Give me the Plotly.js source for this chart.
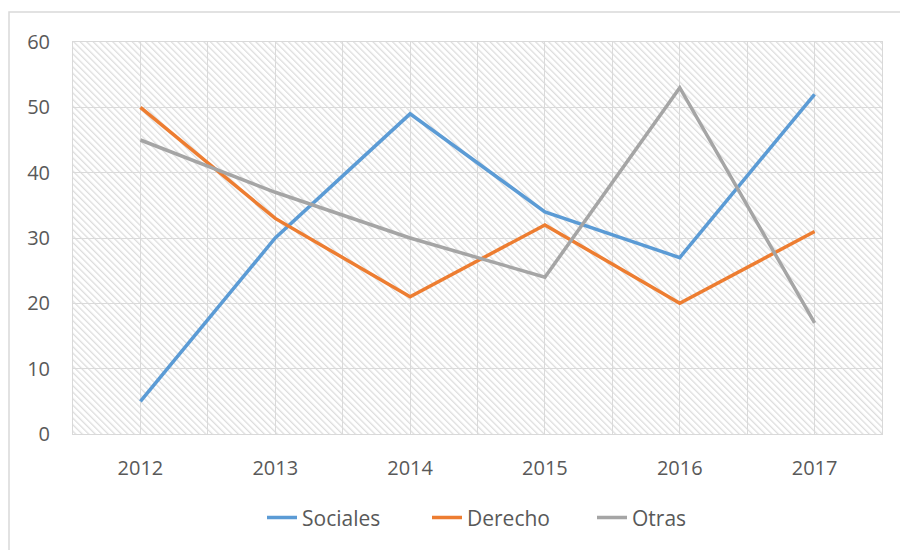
<!DOCTYPE html>
<html>
<head>
<meta charset="utf-8">
<script src="https://cdn.plot.ly/plotly-3.0.1.min.js"></script>
<style>
html,body{margin:0;padding:0;background:#fff;}
#chart{width:900px;height:550px;}
</style>
</head>
<body>
<div id="chart"></div>
<script>
const years = [2012, 2013, 2014, 2015, 2016, 2017];
const sociales = [5, 30, 49, 34, 27, 52];
const derecho = [50, 33, 21, 32, 20, 31];
const otras = [45, 37, 30, 24, 53, 17];
const yTicks = [0, 10, 20, 30, 40, 50, 60];
const seriesNames = ['Sociales', 'Derecho', 'Otras'];

const colors = ['#5B9BD5', '#ED7D31', '#A5A5A5'];
const W = 900, H = 550;
const L = 73, R = 18, T = 42, B = 116;
const pw = W - L - R, ph = H - T - B;

// hatched background pattern as an SVG image
const svg = `<svg xmlns="http://www.w3.org/2000/svg" width="${pw}" height="${ph}">
<defs><pattern id="p" patternUnits="userSpaceOnUse" width="4.6" height="5" patternTransform="rotate(-45)">
<rect x="0" y="0" width="1.3" height="5" fill="#DDDDDD"/></pattern></defs>
<rect width="${pw}" height="${ph}" fill="#ffffff"/>
<rect width="${pw}" height="${ph}" fill="url(#p)"/></svg>`;
const src = 'data:image/svg+xml;base64,' + btoa(svg);

const series = [sociales, derecho, otras];
const traces = series.map((vals, i) => ({
  type: 'scatter', mode: 'lines', x: years, y: vals, name: seriesNames[i],
  line: {color: colors[i], width: 3.5}, hoverinfo: 'skip'
}));

const font = {family: '"Open Sans", sans-serif', size: 20, color: '#595959'};
const legendFont = {family: '"Open Sans", sans-serif', size: 21, color: '#595959'};

const layout = {
  width: W, height: H,
  margin: {l: L, r: R, t: T, b: B, pad: 0},
  paper_bgcolor: '#ffffff', plot_bgcolor: 'rgba(0,0,0,0)',
  font: font,
  showlegend: true,
  xaxis: {
    range: [years[0] - 0.5, years[years.length - 1] + 0.5],
    tickvals: years, ticktext: years.map(String),
    showgrid: true, gridcolor: '#DADADA', gridwidth: 1,
    minor: {tickmode: 'linear', tick0: years[0] - 0.5, dtick: 1, showgrid: true, gridcolor: '#DADADA', gridwidth: 1, ticks: ''},
    showline: true, linecolor: '#D9D9D9', linewidth: 1, mirror: true,
    zeroline: false, ticks: '', ticklabelstandoff: 16,
    tickfont: font, fixedrange: true
  },
  yaxis: {
    range: [0, 60], tickvals: yTicks,
    showgrid: true, gridcolor: '#DADADA', gridwidth: 1,
    showline: true, linecolor: '#D9D9D9', linewidth: 1, mirror: true,
    zeroline: false, ticks: '', ticklabelstandoff: 18,
    tickfont: font, fixedrange: true
  },
  legend: {
    orientation: 'h', x: (262 - L) / pw, xanchor: 'left', y: -0.214, yanchor: 'middle',
    font: legendFont, bgcolor: 'rgba(0,0,0,0)', itemwidth: 30,
    entrywidth: 120, entrywidthmode: 'pixels'
  },
  images: [{
    source: src, xref: 'paper', yref: 'paper', x: 0, y: 1,
    sizex: 1, sizey: 1, sizing: 'stretch', layer: 'below',
    xanchor: 'left', yanchor: 'top'
  }],
  shapes: [{
    type: 'rect', xref: 'paper', yref: 'paper',
    x0: (9 - L) / pw, x1: (910 - L) / pw,
    y0: (T + ph - 560) / ph, y1: (T + ph - 12) / ph,
    line: {color: '#D9D9D9', width: 1.5}, fillcolor: 'rgba(0,0,0,0)', layer: 'below'
  }]
};

Plotly.newPlot('chart', traces, layout, {staticPlot: true, displayModeBar: false});
</script>
</body>
</html>
